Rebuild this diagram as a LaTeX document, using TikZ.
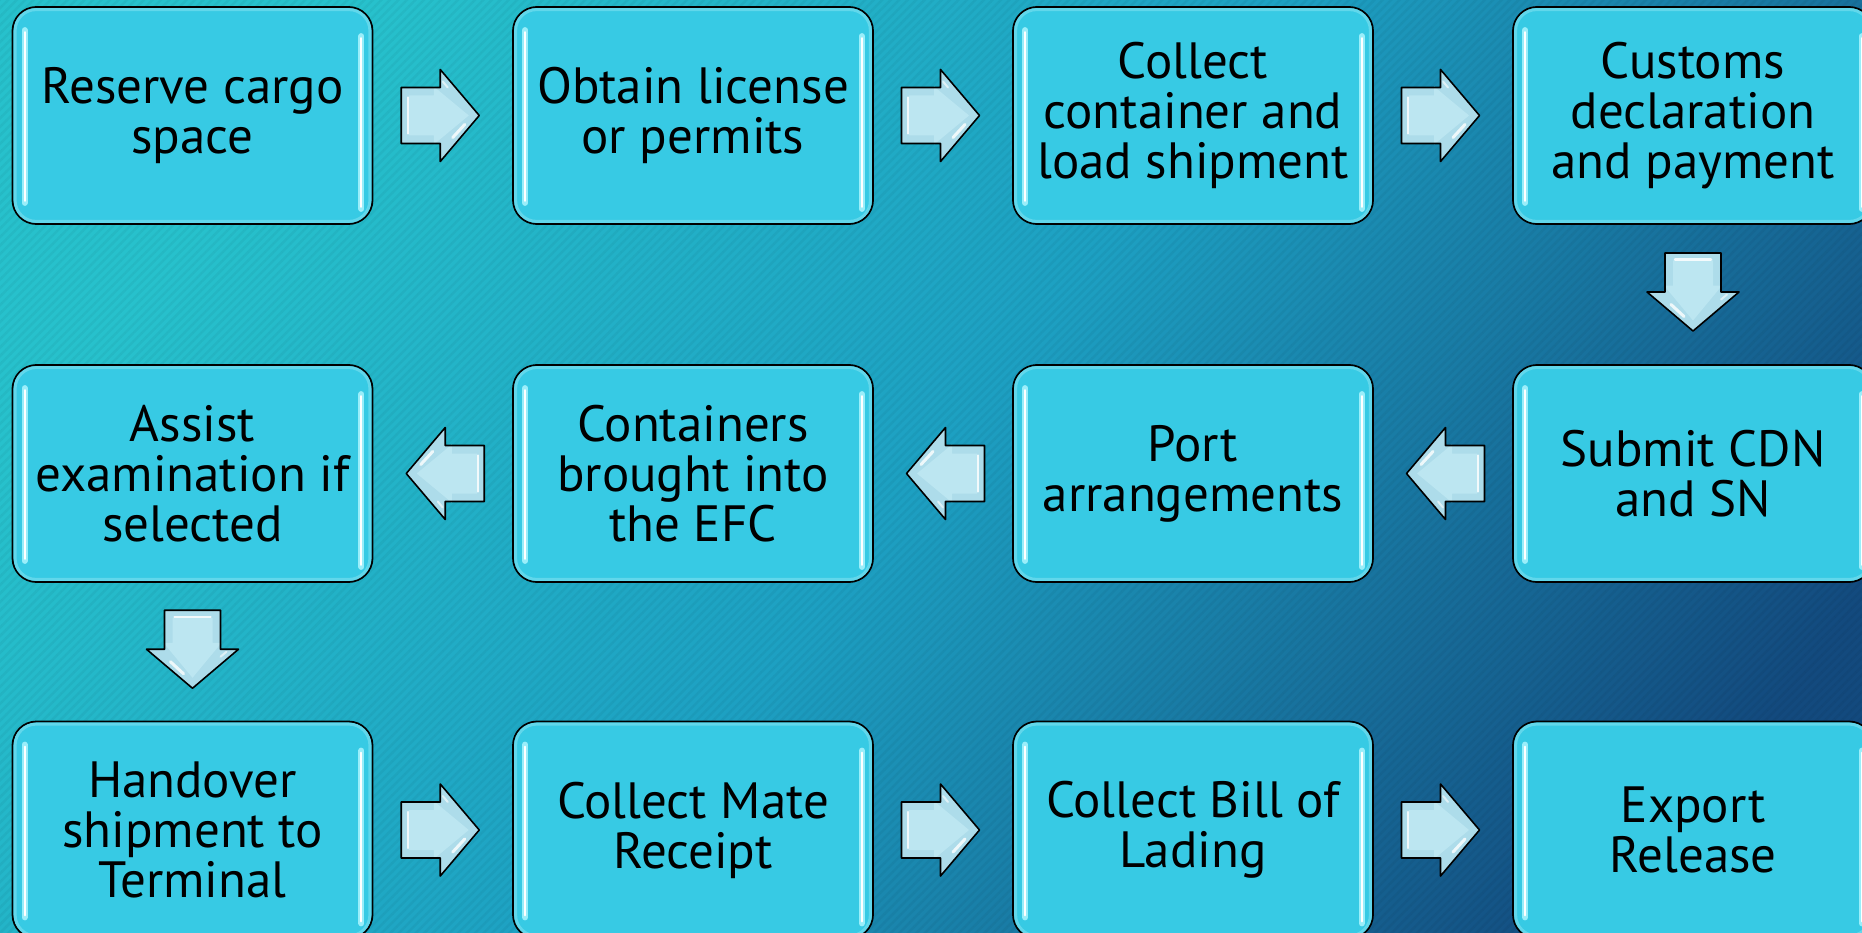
\documentclass[tikz,border=0pt]{standalone}
\usepackage{fontspec}
\setmainfont{PT Sans}
\usetikzlibrary{calc,patterns.meta}
\definecolor{boxfill}{HTML}{37CAE4}
\definecolor{boxrim}{HTML}{74DDEE}
\definecolor{hlc}{HTML}{9AEEFA}
\definecolor{bgA}{HTML}{27C1CC}
\definecolor{bgM}{HTML}{1DA0C2}
\definecolor{bgB}{HTML}{134A7E}
\definecolor{arrfill}{HTML}{ADDCEA}
\definecolor{arrface}{HTML}{BCE6F1}
\pgfdeclareverticalshading{bgsh}{100bp}{color(0bp)=(bgB); color(22bp)=(bgB); color(50bp)=(bgM); color(75bp)=(bgA); color(100bp)=(bgA)}
\begin{document}
\begin{tikzpicture}[x=1pt,y=-1pt,
  stepbox/.style={draw=black, line width=1.8pt, fill=boxfill, rounded corners=24pt,
    minimum width=360pt, minimum height=217pt, align=center, inner sep=0pt,
    font=\fontsize{51}{50}\selectfont},
  rarr/.pic={
    \fill[arrfill] (-41.5,-28) -- (-2.5,-28) -- (-2.5,-46) -- (36.5,0) -- (-2.5,46) -- (-2.5,28) -- (-41.5,28) -- cycle;
    \fill[arrface] (-34,-20) -- (-9,-20) -- (-9,-29) -- (26,0) -- (-9,29) -- (-9,20) -- (-34,20) -- cycle;
    \draw[white, line width=2.5pt, opacity=.85, line cap=round] (-35,-18) -- (-35,18);
    \draw[white, line width=3pt, opacity=.8, line cap=round] (10,22) -- (22,9);
    \draw[white, line width=2pt, opacity=.6, line cap=round] (0,-34) -- (5,-28);
    \draw[black, line width=1.6pt, line join=round] (-41.5,-28) -- (-2.5,-28) -- (-2.5,-46) -- (36.5,0) -- (-2.5,46) -- (-2.5,28) -- (-41.5,28) -- cycle;
  }]
\useasboundingbox (0,0) rectangle (1862,933);
\clip (0,0) rectangle (1862,933);
\shade[shading=bgsh, shading angle=52] (0,0) rectangle (1862,933);
\fill[pattern={Lines[angle=45,distance=6pt,line width=2.5pt]}, pattern color=black, opacity=0.04] (0,0) rectangle (1862,933);

% row 1
\node[stepbox] (a1) at (192.5,115.5) {Reserve cargo\\space};
\node[stepbox] (a2) at (693,115.5) {Obtain license\\or permits};
\node[stepbox] (a3) at (1193,115.5) {Collect\\container and\\load shipment};
\node[stepbox] (a4) at (1693,115.5) {Customs\\declaration\\and payment};
% row 2
\node[stepbox] (b1) at (192.5,473.5) {Assist\\examination if\\selected};
\node[stepbox] (b2) at (693,473.5) {Containers\\brought into\\the EFC};
\node[stepbox] (b3) at (1193,473.5) {Port\\arrangements};
\node[stepbox] (b4) at (1693,473.5) {Submit CDN\\and SN};
% row 3
\node[stepbox] (c1) at (192.5,830) {Handover\\shipment to\\Terminal};
\node[stepbox] (c2) at (693,830) {Collect Mate\\Receipt};
\node[stepbox] (c3) at (1193,830) {Collect Bill of\\Lading};
\node[stepbox] (c4) at (1693,830) {Export\\Release};

% glossy highlights
\foreach \n in {a1,a2,a3,a4,b1,b2,b3,b4,c1,c2,c3,c4}{
  \draw[boxrim, line width=3pt, opacity=.7, rounded corners=21pt]
    ($(\n.north west)+(3.5,3.5)$) rectangle ($(\n.south east)+(-3.5,-3.5)$);
  \draw[hlc, line width=6pt, line cap=round] ($(\n.north west)+(13,24)$) -- ($(\n.south west)+(13,-22)$);
  \draw[white, line width=2pt, line cap=round] ($(\n.north west)+(13,26)$) -- ($(\n.south west)+(13,-24)$);
  \draw[hlc, line width=6pt, line cap=round] ($(\n.north east)+(-12,30)$) -- ($(\n.south east)+(-12,-16)$);
  \draw[white, line width=2pt, line cap=round] ($(\n.north east)+(-12,32)$) -- ($(\n.south east)+(-12,-18)$);
}

% connectors
\pic at ($(a1.east)!0.5!(a2.west)$) {rarr};
\pic at ($(a2.east)!0.5!(a3.west)$) {rarr};
\pic at ($(a3.east)!0.5!(a4.west)$) {rarr};
\pic[rotate=-90] at ($(a4.south)!0.5!(b4.north)$) {rarr};
\pic[rotate=180] at ($(b3.east)!0.5!(b4.west)$) {rarr};
\pic[rotate=180] at ($(b2.east)!0.5!(b3.west)$) {rarr};
\pic[rotate=180] at ($(b1.east)!0.5!(b2.west)$) {rarr};
\pic[rotate=-90] at ($(b1.south)!0.5!(c1.north)$) {rarr};
\pic at ($(c1.east)!0.5!(c2.west)$) {rarr};
\pic at ($(c2.east)!0.5!(c3.west)$) {rarr};
\pic at ($(c3.east)!0.5!(c4.west)$) {rarr};
\end{tikzpicture}
\end{document}
